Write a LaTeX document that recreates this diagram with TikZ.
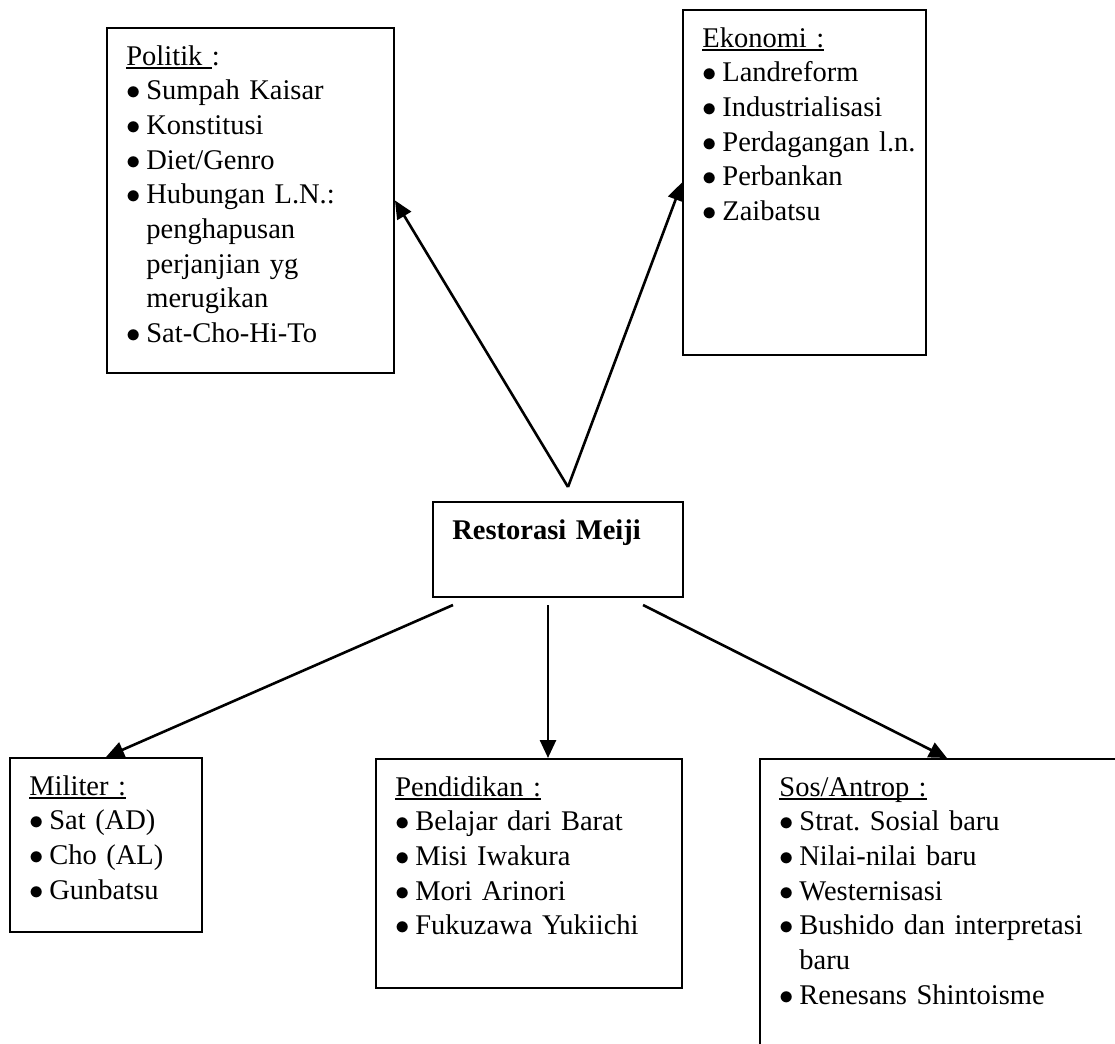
\documentclass[tikz,border=0pt]{standalone}
\usepackage{fontspec}
\setmainfont{Liberation Serif}[WordSpace=0.9]
\usepackage{tikz}
\usetikzlibrary{arrows.meta, fit, calc}
\tikzstyle{kotak} = [rectangle, draw, line width=1pt, inner sep=0pt]
\tikzstyle{isi} = [anchor=base west, text width=180pt, align=left, inner sep=0pt, font=\fontsize{14.25pt}{17.35pt}\selectfont\frenchspacing]
\tikzstyle{line} = [draw, line width=1.3pt, -{Triangle[length=9pt,width=8pt]}]
\newcommand{\itm}{\makebox[10pt][l]{$\bullet$}}
\newlength{\lebar}
\newcommand{\garis}[1]{\settowidth{\lebar}{#1}\rlap{\rule[-1.8pt]{\lebar}{0.7pt}}#1}

\begin{document}
\begin{tikzpicture}[x=0.5pt, y=-0.5pt]
    \clip (0,0) rectangle (1115,1044);

    % kotak
    \node[kotak, fit={(107,28) (394,373)}](politik){};
    \node[kotak, fit={(683,10) (926,355)}](ekonomi){};
    \node[kotak, fit={(433,502) (683,597)}](meiji){};
    \node[kotak, fit={(10,758) (202,932)}](militer){};
    \node[kotak, fit={(376,759) (682,988)}](pendidikan){};
    \node[kotak, fit={(760,759) (1134,1080)}](sosial){};

    % isi
    \node[isi] (tpolitik) at ($(politik.north west)+(20,38)$) {\garis{Politik\ }:\\
        \itm Sumpah Kaisar\\
        \itm Konstitusi\\
        \itm Diet/Genro\\
        \itm Hubungan L.N.:\\
        \hspace*{10pt}penghapusan\\
        \hspace*{10pt}perjanjian yg\\
        \hspace*{10pt}merugikan\\
        \itm Sat-Cho-Hi-To};
    \node[isi] (tekonomi) at ($(ekonomi.north west)+(20,38)$) {\garis{Ekonomi :}\\
        \itm Landreform\\
        \itm Industrialisasi\\
        \itm Perdagangan l.n.\\
        \itm Perbankan\\
        \itm Zaibatsu};
    \node[isi] (tmeiji) at ($(meiji.north west)+(20,38)$) {\textbf{Restorasi Meiji}};
    \node[isi] (tmiliter) at ($(militer.north west)+(20,38)$) {\garis{Militer :}\\
        \itm Sat (AD)\\
        \itm Cho (AL)\\
        \itm Gunbatsu};
    \node[isi] (tpendidikan) at ($(pendidikan.north west)+(20,38)$) {\garis{Pendidikan :}\\
        \itm Belajar dari Barat\\
        \itm Misi Iwakura\\
        \itm Mori Arinori\\
        \itm Fukuzawa Yukiichi};
    \node[isi] (tsosial) at ($(sosial.north west)+(20,38)$) {\garis{Sos/Antrop :}\\
        \itm Strat. Sosial baru\\
        \itm Nilai-nilai baru\\
        \itm Westernisasi\\
        \itm Bushido dan interpretasi\\
        \hspace*{10pt}baru\\
        \itm Renesans Shintoisme};

    % panah
    \coordinate (puncak) at ($(meiji.north)+(10,-14)$);
    \coordinate (kiri) at ($(meiji.south)+(-105,7)$);
    \coordinate (tengah) at ($(meiji.south)+(-10,7)$);
    \coordinate (kanan) at ($(meiji.south)+(85,7)$);

    \path[line] (puncak) -- (politik.east);
    \path[line] (puncak) -- (ekonomi.west);
    \path[line] (kiri) -- (militer.north);
    \path[line] (tengah) -- (tengah |- pendidikan.north);
    \path[line] (kanan) -- (sosial.north);
\end{tikzpicture}
\end{document}
